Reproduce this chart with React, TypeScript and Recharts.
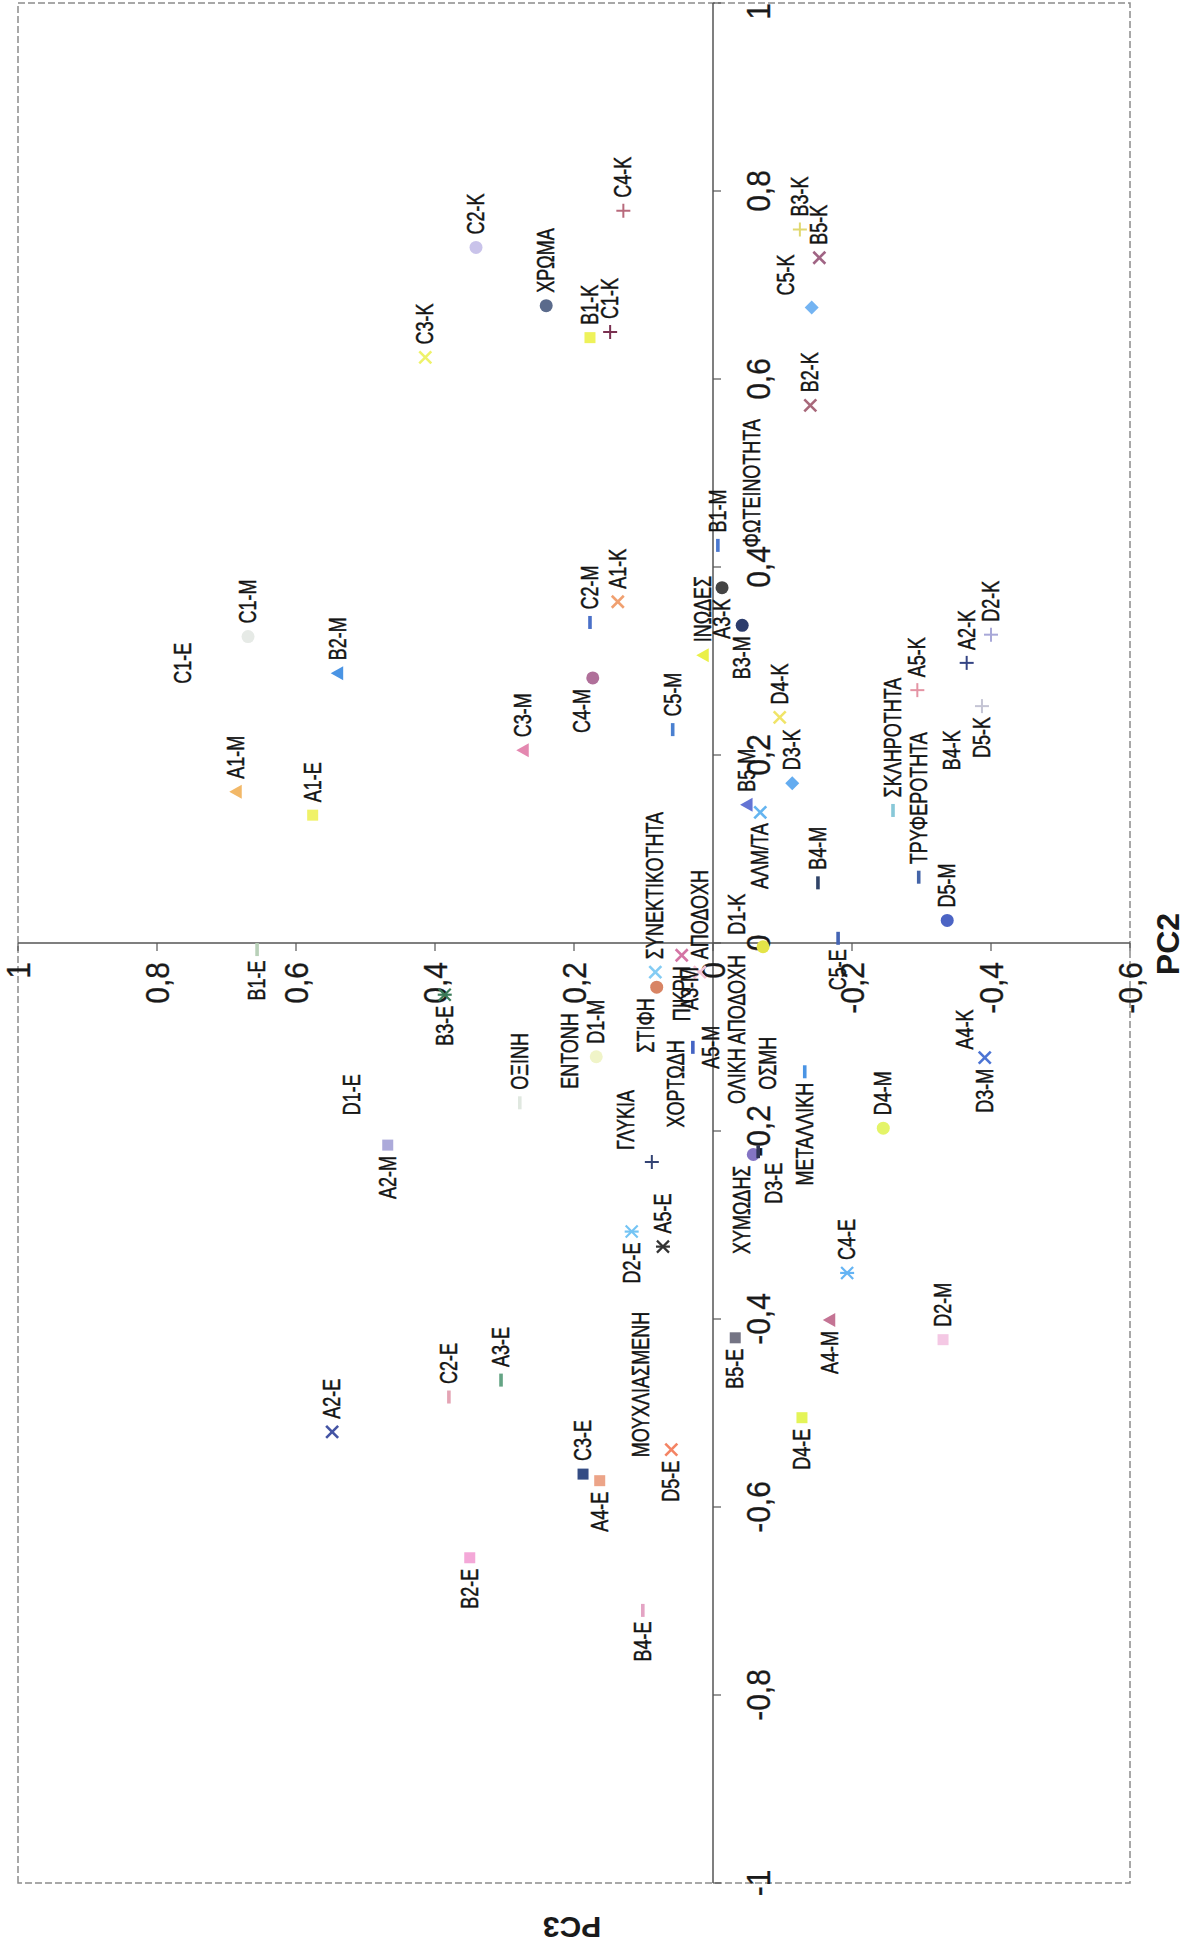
import React from "react";
import {
  ScatterChart,
  Scatter,
  XAxis,
  YAxis,
  ReferenceLine,
  ReferenceDot,
  ReferenceArea,
} from "recharts";

// Sample / attribute names, PC2 and PC3 scores
const NAMES = [
  "C2-K", "ΧΡΩΜΑ", "C3-K", "B1-K", "C1-K", "C4-K", "B3-K", "B5-K", "C5-K", "B2-K",
  "ΦΩΤΕΙΝΟΤΗΤΑ", "B1-M", "A3-K", "B3-M", "ΙΝΩΔΕΣ", "C2-M", "A1-K", "C4-M", "C3-M", "C5-M",
  "C1-M", "C1-E", "B2-M", "A1-M", "A1-E", "D4-K", "D3-K", "B5-M", "ΑΛΜ/ΤΑ", "D1-K",
  "B4-M", "ΣΚΛΗΡΟΤΗΤΑ", "ΤΡΥΦΕΡΟΤΗΤΑ", "A5-K", "A2-K", "D2-K", "D5-K", "B4-K", "D5-M", "C5-E",
  "A4-K", "D3-M", "D4-M", "B1-E", "B3-E", "ΟΞΙΝΗ", "ΕΝΤΟΝΗ", "D1-M", "D1-E", "A2-M",
  "ΓΛΥΚΙΑ", "ΣΤΙΦΗ", "ΣΥΝΕΚΤΙΚΟΤΗΤΑ", "ΠΙΚΡΗ", "ΑΠΟΔΟΧΗ", "A3-M", "A5-M", "ΧΟΡΤΩΔΗ", "ΟΛΙΚΗ ΑΠΟΔΟΧΗ", "ΟΣΜΗ",
  "ΜΕΤΑΛΛΙΚΗ", "ΧΥΜΩΔΗΣ", "D3-E", "D2-E", "A5-E", "C4-E", "D2-M", "A4-M", "B5-E", "ΜΟΥΧΛΙΑΣΜΕΝΗ",
  "C2-E", "A3-E", "A2-E", "C3-E", "A4-E", "D5-E", "D4-E", "B2-E", "B4-E",
];

const PC2 = [
  0.74, 0.678, 0.623, 0.644, 0.65, 0.779, 0.759, 0.729, 0.676, 0.572,
  0.407, 0.423, 0.378, 0.338, 0.306, 0.341, 0.363, 0.282, 0.205, 0.227,
  0.326, 0.262, 0.287, 0.161, 0.136, 0.24, 0.17, 0.147, 0.139, -0.004,
  0.064, 0.141, 0.07, 0.269, 0.298, 0.328, 0.252, 0.17, 0.024, 0.005,
  -0.127, -0.122, -0.197, -0.007, -0.055, -0.17, -0.169, -0.121, -0.197, -0.215,
  -0.233, -0.047, -0.031, -0.013, -0.031, -0.085, -0.111, -0.21, -0.185, -0.17,
  -0.137, -0.225, -0.222, -0.307, -0.323, -0.351, -0.422, -0.401, -0.42, -0.561,
  -0.483, -0.465, -0.52, -0.565, -0.572, -0.539, -0.505, -0.654, -0.71,
];

const PC3 = [
  0.341, 0.24, 0.414, 0.177, 0.148, 0.129, -0.125, -0.153, -0.142, -0.14,
  -0.056, -0.007, -0.013, -0.042, 0.014, 0.177, 0.137, 0.173, 0.273, 0.058,
  0.669, 0.763, 0.54, 0.686, 0.576, -0.096, -0.114, -0.049, -0.068, -0.072,
  -0.151, -0.259, -0.296, -0.294, -0.365, -0.4, -0.387, -0.344, -0.337, -0.18,
  -0.363, -0.391, -0.245, 0.656, 0.386, 0.278, 0.206, 0.168, 0.519, 0.468,
  0.088, 0.081, 0.083, 0.045, 0.019, 0.033, 0.029, 0.053, -0.035, -0.079,
  -0.132, -0.058, -0.065, 0.117, 0.072, -0.193, -0.331, -0.168, -0.032, 0.104,
  0.38, 0.305, 0.548, 0.187, 0.163, 0.06, -0.128, 0.35, 0.101,
];

const PC2_TICKS = [-1, -0.8, -0.6, -0.4, -0.2, 0, 0.2, 0.4, 0.6, 0.8, 1];
const PC3_TICKS = [-0.6, -0.4, -0.2, 0, 0.2, 0.4, 0.6, 0.8, 1];

// marker shape + colour per point
const STYLE: Record<string, [string, string]> = {
  "C2-K": ["circle", "#c9c3ea"],
  "ΧΡΩΜΑ": ["circle", "#5b6b8c"],
  "C3-K": ["x", "#eef26a"],
  "B1-K": ["square", "#eef25a"],
  "C1-K": ["plus", "#7a3050"],
  "C4-K": ["plus", "#b86a7c"],
  "B3-K": ["plus", "#e0d870"],
  "B5-K": ["x", "#a06484"],
  "C5-K": ["diamond", "#74b4f2"],
  "B2-K": ["x", "#a8687a"],
  "B1-M": ["dash", "#4a78d0"],
  "A3-K": ["circle", "#444444"],
  "B3-M": ["circle", "#2c3c6c"],
  "ΙΝΩΔΕΣ": ["triangle", "#eaf048"],
  "C2-M": ["dash", "#4a70c8"],
  "A1-K": ["x", "#f0a070"],
  "C4-M": ["circle", "#b0709a"],
  "C3-M": ["triangle", "#e488b0"],
  "C5-M": ["dash", "#4a80d0"],
  "C1-M": ["circle", "#e6eae6"],
  "B2-M": ["triangle", "#4a94e4"],
  "A1-M": ["triangle", "#f2b868"],
  "A1-E": ["square", "#f0f268"],
  "D4-K": ["x", "#f0e468"],
  "D3-K": ["diamond", "#64acf0"],
  "B5-M": ["triangle", "#6474d4"],
  "ΑΛΜ/ΤΑ": ["x", "#64b4f0"],
  "D1-K": ["circle", "#e4e448"],
  "B4-M": ["dash", "#304468"],
  "ΣΚΛΗΡΟΤΗΤΑ": ["dash", "#88c8d8"],
  "ΤΡΥΦΕΡΟΤΗΤΑ": ["dash", "#4464a8"],
  "A5-K": ["plus", "#e494a4"],
  "A2-K": ["plus", "#344484"],
  "D2-K": ["plus", "#a8a8d8"],
  "D5-K": ["plus", "#c4c4d4"],
  "D5-M": ["circle", "#4c64c4"],
  "C5-E": ["dash", "#4464b4"],
  "D3-M": ["x", "#4c74d4"],
  "D4-M": ["circle", "#e4f468"],
  "B1-E": ["dash", "#b8d0b8"],
  "B3-E": ["star", "#3a7a58"],
  "ΟΞΙΝΗ": ["dash", "#e0e8e0"],
  "D1-M": ["circle", "#f0f4c8"],
  "A2-M": ["square", "#acaada"],
  "ΓΛΥΚΙΑ": ["plus", "#344474"],
  "ΣΤΙΦΗ": ["circle", "#d88464"],
  "ΣΥΝΕΚΤΙΚΟΤΗΤΑ": ["x", "#84ccf4"],
  "ΠΙΚΡΗ": ["x", "#d474a4"],
  "ΑΠΟΔΟΧΗ": ["x", "#f4c4d4"],
  "A5-M": ["dash", "#4464c4"],
  "ΜΕΤΑΛΛΙΚΗ": ["dash", "#4a94e4"],
  "ΧΥΜΩΔΗΣ": ["circle", "#8474c4"],
  "D3-E": ["dash", "#303454"],
  "D2-E": ["star", "#74c4f4"],
  "A5-E": ["star", "#333333"],
  "C4-E": ["star", "#64b4f4"],
  "D2-M": ["square", "#f4c8e4"],
  "A4-M": ["triangle", "#c47494"],
  "B5-E": ["square", "#747484"],
  "C2-E": ["dash", "#e4a4b4"],
  "A3-E": ["dash", "#64a484"],
  "A2-E": ["x", "#4454a4"],
  "C3-E": ["square", "#344c84"],
  "A4-E": ["square", "#eca488"],
  "D5-E": ["x", "#f48464"],
  "D4-E": ["square", "#e4f458"],
  "B2-E": ["square", "#f4a8d8"],
  "B4-E": ["dash", "#e4a4c4"],
};

// which side of the marker the label sits on (default right)
const SIDE: Record<string, string> = {
  "C5-K": "tr", "A3-K": "l", "B3-M": "l", "C4-M": "tl", "ΑΛΜ/ΤΑ": "l", "D1-K": "tr",
  "D5-K": "l", "C5-E": "l", "D3-M": "l", "B1-E": "l", "B3-E": "l", "A2-M": "l",
  "ΓΛΥΚΙΑ": "tr", "ΣΤΙΦΗ": "tl", "ΠΙΚΡΗ": "l", "A5-M": "b", "ΜΕΤΑΛΛΙΚΗ": "l",
  "ΧΥΜΩΔΗΣ": "tl", "D3-E": "bl", "D2-E": "l", "A4-M": "l", "B5-E": "l", "A4-E": "l",
  "D5-E": "l", "D4-E": "l", "B2-E": "l", "B4-E": "l",
};

const FONT = "'Liberation Sans', Arial, sans-serif";

const points = NAMES.map((name, i) => ({ name, pc2: PC2[i], pc3: PC3[i] }));

const fmt = (v: number) => String(Math.round(v * 10) / 10).replace(".", ",");

function Marker(props: any) {
  const { cx, cy, payload } = props;
  if (cx == null || cy == null) return null;
  const [shape, color] = STYLE[payload.name] ?? ["none", "none"];
  const side = SIDE[payload.name] ?? "r";
  let mark: React.ReactNode = null;
  if (shape === "circle") mark = <circle cx={cx} cy={cy} r={6.5} fill={color} />;
  else if (shape === "square")
    mark = <rect x={cx - 5.5} y={cy - 5.5} width={11} height={11} fill={color} />;
  else if (shape === "triangle")
    mark = (
      <polygon
        points={`${cx},${cy - 7} ${cx + 7},${cy + 5.5} ${cx - 7},${cy + 5.5}`}
        fill={color}
      />
    );
  else if (shape === "diamond")
    mark = (
      <polygon
        points={`${cx},${cy - 7} ${cx + 7},${cy} ${cx},${cy + 7} ${cx - 7},${cy}`}
        fill={color}
      />
    );
  else if (shape === "x")
    mark = (
      <g stroke={color} strokeWidth={2.6}>
        <line x1={cx - 6} y1={cy - 6} x2={cx + 6} y2={cy + 6} />
        <line x1={cx - 6} y1={cy + 6} x2={cx + 6} y2={cy - 6} />
      </g>
    );
  else if (shape === "plus")
    mark = (
      <g stroke={color} strokeWidth={2}>
        <line x1={cx - 7} y1={cy} x2={cx + 7} y2={cy} />
        <line x1={cx} y1={cy - 7} x2={cx} y2={cy + 7} />
      </g>
    );
  else if (shape === "star")
    mark = (
      <g stroke={color} strokeWidth={2.2}>
        <line x1={cx - 6} y1={cy - 6} x2={cx + 6} y2={cy + 6} />
        <line x1={cx - 6} y1={cy + 6} x2={cx + 6} y2={cy - 6} />
        <line x1={cx} y1={cy - 7} x2={cx} y2={cy + 7} />
      </g>
    );
  else if (shape === "dash")
    mark = <rect x={cx - 6.5} y={cy - 1.8} width={13} height={3.6} fill={color} />;

  let tx = cx + 13;
  let ty = cy;
  let anchor: "start" | "end" | "middle" = "start";
  if (side === "l" || side === "tl" || side === "bl") {
    tx = cx - 11;
    anchor = "end";
    if (side === "tl") ty = cy - 11;
    if (side === "bl") ty = cy + 16;
  } else if (side === "tr") {
    tx = cx + 12;
    ty = cy - 26;
  } else if (side === "b") {
    tx = cx;
    ty = cy + 18;
    anchor = "middle";
  }
  return (
    <g>
      {mark}
      <g transform={`translate(${tx} ${ty}) scale(1 1.35)`}>
        <text
          textAnchor={anchor}
          dominantBaseline="central"
          fontSize={18}
          fontFamily={FONT}
          fill="#141414"
          stroke="#141414"
          strokeWidth={0.35}
        >
          {payload.name}
        </text>
      </g>
    </g>
  );
}

function XTick(props: any) {
  const { cx, cy, value } = props;
  return (
    <g>
      <line x1={cx} y1={cy} x2={cx} y2={cy + 8} stroke="#555" strokeWidth={1.2} />
      <g transform={`translate(${cx} ${cy + 45}) scale(1 1.12)`}>
        <text
          textAnchor={value === 1 ? "end" : "middle"}
          dominantBaseline="central"
          fontSize={30}
          fontFamily={FONT}
          fill="#1a1a1a"
          stroke="#1a1a1a"
          strokeWidth={0.3}
        >
          {fmt(value)}
        </text>
      </g>
    </g>
  );
}

function YTick(props: any) {
  const { cx, cy, value } = props;
  return (
    <g>
      <line x1={cx - 8} y1={cy} x2={cx} y2={cy} stroke="#555" strokeWidth={1.2} />
      <g transform={`translate(${cx - 19} ${cy}) scale(1 1.12)`}>
        <text
          textAnchor="end"
          dominantBaseline="central"
          fontSize={30}
          fontFamily={FONT}
          fill="#1a1a1a"
          stroke="#1a1a1a"
          strokeWidth={0.3}
        >
          {fmt(value)}
        </text>
      </g>
    </g>
  );
}

export default function App() {
  return (
    <div
      style={{
        position: "absolute",
        left: 0,
        top: 0,
        width: 1185,
        height: 1948,
        overflow: "hidden",
        background: "#fff",
      }}
    >
      {/* the scanned page is turned on its side, so draw upright and rotate */}
      <div
        style={{
          position: "absolute",
          left: 0,
          top: 0,
          width: 1948,
          height: 1185,
          transformOrigin: "0 0",
          transform: "translate(0px, 1948px) rotate(-90deg)",
        }}
      >
        <ScatterChart
          width={1948}
          height={1185}
          margin={{ top: 18, right: 3, bottom: 55, left: 65 }}
        >
          <XAxis type="number" dataKey="pc2" domain={[-1, 1]} allowDataOverflow hide />
          <YAxis type="number" dataKey="pc3" domain={[-0.6, 1]} allowDataOverflow hide />
          <ReferenceArea
            x1={-1}
            x2={1}
            y1={-0.6}
            y2={1}
            fill="none"
            fillOpacity={0}
            stroke="#8c8c8c"
            strokeWidth={1.5}
            strokeDasharray="7 3"
          />
          <ReferenceLine y={0} stroke="#555" strokeWidth={1.5} />
          <ReferenceLine x={0} stroke="#555" strokeWidth={1.5} />
          {PC2_TICKS.map((t) => (
            <ReferenceDot
              key={"x" + t}
              x={t}
              y={0}
              ifOverflow="visible"
              shape={(p: any) => <XTick {...p} value={t} />}
            />
          ))}
          {PC3_TICKS.map((t) => (
            <ReferenceDot
              key={"y" + t}
              x={0}
              y={t}
              ifOverflow="visible"
              shape={(p: any) => <YTick {...p} value={t} />}
            />
          ))}
          <Scatter data={points} dataKey="pc3" shape={(p: any) => <Marker {...p} />} isAnimationActive={false} />
        </ScatterChart>
        <div
          style={{
            position: "absolute",
            left: 1004 - 50,
            top: 1168 - 16,
            width: 100,
            height: 32,
            lineHeight: "32px",
            textAlign: "center",
            fontFamily: FONT,
            fontWeight: "bold",
            fontSize: 32,
            color: "#1a1a1a",
          }}
        >
          PC2
        </div>
        <div
          style={{
            position: "absolute",
            left: 21 - 50,
            top: 572 - 16,
            width: 100,
            height: 32,
            lineHeight: "32px",
            textAlign: "center",
            fontFamily: FONT,
            fontWeight: "bold",
            fontSize: 30,
            color: "#1a1a1a",
            transform: "rotate(-90deg)",
          }}
        >
          PC3
        </div>
      </div>
    </div>
  );
}
